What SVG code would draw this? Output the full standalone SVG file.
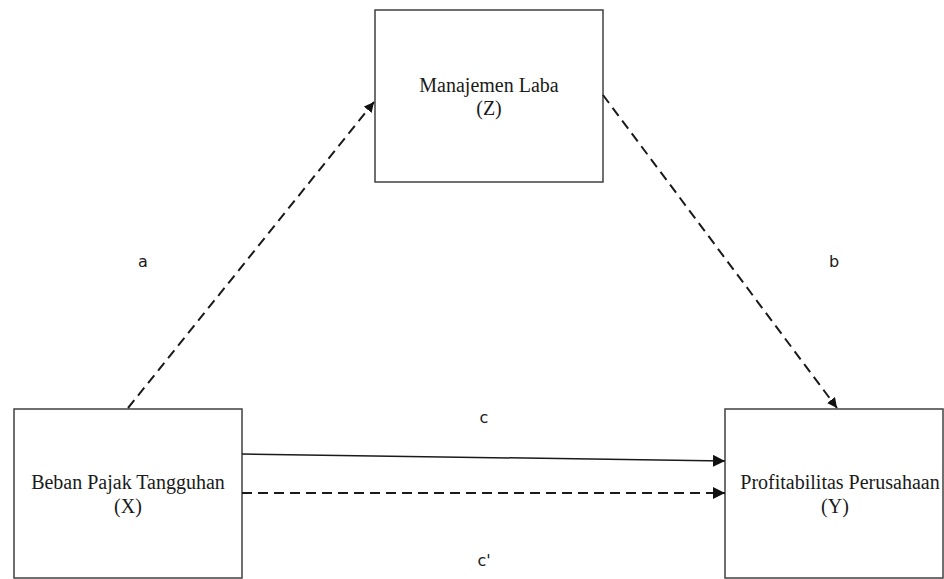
<svg xmlns="http://www.w3.org/2000/svg" width="944" height="579" viewBox="0 0 944 579">
<defs>
<style>
.box{fill:#ffffff;stroke:#404040;stroke-width:1.5}
.t{font-family:"Liberation Serif","Times New Roman",serif;font-size:20px;fill:#1a1a1a;text-anchor:middle}
.lbl{font-family:"DejaVu Sans",Verdana,sans-serif;font-size:16px;fill:#1a1a1a;text-anchor:middle}
.ln{fill:none;stroke:#1a1a1a;stroke-width:1.5}
.dash{fill:none;stroke:#1a1a1a;stroke-width:2;stroke-dasharray:10 6}
</style>
<marker id="ah" viewBox="0 0 10 10" refX="10" refY="5" markerWidth="10" markerHeight="10" markerUnits="userSpaceOnUse" orient="auto">
<path d="M0,0 L10,5 L0,10 z" fill="#111"/>
</marker>
<marker id="ah2" viewBox="0 0 10 10" refX="10" refY="5" markerWidth="12" markerHeight="12" markerUnits="userSpaceOnUse" orient="auto">
<path d="M0,0 L10,5 L0,10 z" fill="#111"/>
</marker>
</defs>
<rect width="944" height="579" fill="#ffffff"/>
<g id="nodeZ">
<rect class="box" x="375" y="10" width="228" height="172"/>
<text class="t" x="489" y="92">Manajemen Laba</text>
<text class="t" x="489" y="115">(Z)</text>
</g>
<g id="nodeX">
<rect class="box" x="14" y="409" width="228" height="169"/>
<text class="t" x="128" y="489">Beban Pajak Tangguhan</text>
<text class="t" x="128" y="513">(X)</text>
</g>
<g id="nodeY">
<rect class="box" x="725" y="409" width="218" height="169"/>
<text class="t" x="840" y="489">Profitabilitas Perusahaan</text>
<text class="t" x="835" y="513">(Y)</text>
</g>
<g id="connectors">
<line class="dash" x1="128" y1="408" x2="374" y2="102" marker-end="url(#ah)"/>
<line class="dash" x1="603" y1="95" x2="837" y2="408" marker-end="url(#ah)"/>
<line class="ln" x1="242" y1="454" x2="725" y2="461" marker-end="url(#ah2)"/>
<line class="dash" x1="242" y1="493" x2="725" y2="493" marker-end="url(#ah2)"/>
</g>
<g id="labels">
<text class="lbl" x="143" y="267">a</text>
<text class="lbl" x="834" y="267">b</text>
<text class="lbl" x="484" y="423">c</text>
<text class="lbl" x="484" y="566">c'</text>
</g>
</svg>
